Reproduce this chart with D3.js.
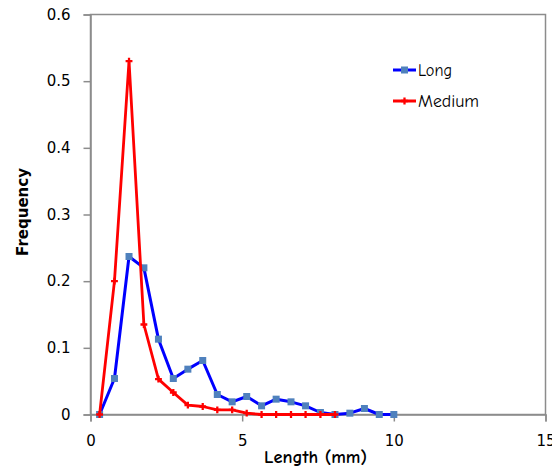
<!DOCTYPE html>
<html>
<head>
<meta charset="utf-8">
<script src="https://cdn.jsdelivr.net/npm/d3@7"></script>
<style>
  html, body { margin: 0; padding: 0; background: #fff; }
  svg { display: block; }
</style>
</head>
<body>
<svg id="chart" width="552" height="474"></svg>
<script>
// Fibre length classes (mm)
const lengths = [0.3, 0.79, 1.27, 1.76, 2.24, 2.73, 3.21, 3.70, 4.18, 4.67, 5.15,
                 5.64, 6.12, 6.61, 7.09, 7.58, 8.06, 8.55, 9.03, 9.52, 10.0];
// Frequency per class
const longFreq = [0, 0.054, 0.237, 0.220, 0.113, 0.054, 0.068, 0.081, 0.030, 0.019, 0.027,
                  0.013, 0.023, 0.019, 0.013, 0.003, 0, 0.002, 0.009, 0, 0];
const mediumFreq = [0, 0.200, 0.530, 0.135, 0.053, 0.033, 0.014, 0.012, 0.007, 0.007, 0.002,
                    0, 0, 0, 0, 0, 0];
const seriesNames = ["Long", "Medium"];
const xTicks = [0, 5, 10, 15];
const yTicks = [0, 0.1, 0.2, 0.3, 0.4, 0.5, 0.6];

const svg = d3.select("#chart");
const m = { left: 90.5, top: 14.5, right: 545.5, bottom: 414.5 };

const x = d3.scaleLinear().domain([0, 15]).range([m.left, m.right]);
const y = d3.scaleLinear().domain([0, 0.6]).range([m.bottom, m.top]);

const tickFont = "'DejaVu Sans', Verdana, sans-serif";
const comicFont = "'Comic Sans MS', 'Comic Neue', 'Open Sans', sans-serif";
const axisColor = "#8c8c8c";

// plot frame
svg.append("rect")
  .attr("x", m.left).attr("y", m.top)
  .attr("width", m.right - m.left).attr("height", m.bottom - m.top)
  .attr("fill", "none").attr("stroke", axisColor).attr("stroke-width", 1.5);

// axes
const xAxis = svg.append("g")
  .attr("transform", `translate(0,${m.bottom})`)
  .call(d3.axisBottom(x).tickValues(xTicks).tickSize(7).tickPadding(14).tickFormat(d3.format("d")));
const yAxis = svg.append("g")
  .attr("transform", `translate(${m.left},0)`)
  .call(d3.axisLeft(y).tickValues(yTicks).tickSize(7).tickPadding(13)
    .tickFormat(d => d === 0 ? "0" : d3.format(".1f")(d)));

[xAxis, yAxis].forEach(g => {
  g.select(".domain").attr("stroke", axisColor).attr("stroke-width", 1.5);
  g.selectAll(".tick line").attr("stroke", axisColor).attr("stroke-width", 1.5);
  g.selectAll(".tick text").attr("fill", "#000")
    .style("font-family", tickFont).style("font-size", "15px");
});

// axis titles
svg.append("text")
  .attr("x", 315.5).attr("y", 463)
  .attr("text-anchor", "middle")
  .attr("textLength", 103).attr("lengthAdjust", "spacingAndGlyphs")
  .style("font-family", comicFont).style("font-size", "17px").style("font-weight", "bold")
  .text("Length (mm)");
svg.append("text")
  .attr("transform", "translate(28,212) rotate(-90)")
  .attr("text-anchor", "middle")
  .style("font-family", "'DejaVu Sans', Verdana, sans-serif").style("font-size", "15px").style("font-weight", "bold")
  .text("Frequency");

const line = d3.line().x(d => x(d[0])).y(d => y(d[1]));
const longPts = lengths.map((l, i) => [l, longFreq[i]]);
const medPts = mediumFreq.map((v, i) => [lengths[i], v]);

// Long series
svg.append("path").datum(longPts)
  .attr("d", line).attr("fill", "none")
  .attr("stroke", "#0000ff").attr("stroke-width", 3).attr("stroke-linejoin", "round");
svg.selectAll(".sq").data(longPts).join("rect")
  .attr("x", d => x(d[0]) - 3.5).attr("y", d => y(d[1]) - 3.5)
  .attr("width", 7).attr("height", 7).attr("fill", "#4f81bd");

// Medium series
svg.append("path").datum(medPts)
  .attr("d", line).attr("fill", "none")
  .attr("stroke", "#ff0000").attr("stroke-width", 2.8).attr("stroke-linejoin", "round");
const cross = d3.symbol().type(d3.symbolCross).size(26);
svg.selectAll(".cr").data(medPts).join("path")
  .attr("transform", d => `translate(${x(d[0])},${y(d[1])})`)
  .attr("d", cross).attr("fill", "#ff0000");

// legend
const legend = [
  { name: seriesNames[0], color: "#0000ff", marker: "sq", y: 70, w: 34 },
  { name: seriesNames[1], color: "#ff0000", marker: "cr", y: 101, w: 61 }
];
legend.forEach(it => {
  svg.append("line").attr("x1", 393).attr("x2", 416).attr("y1", it.y).attr("y2", it.y)
    .attr("stroke", it.color).attr("stroke-width", 3);
  if (it.marker === "sq") {
    svg.append("rect").attr("x", 401).attr("y", it.y - 3.5).attr("width", 7).attr("height", 7)
      .attr("fill", "#4f81bd");
  } else {
    svg.append("path").attr("transform", `translate(404.5,${it.y})`).attr("d", cross).attr("fill", "#ff0000");
  }
  svg.append("text").attr("x", 418).attr("y", it.y + 5.5)
    .attr("textLength", it.w).attr("lengthAdjust", "spacingAndGlyphs")
    .style("font-family", comicFont).style("font-size", "17px")
    .text(it.name);
});
</script>
</body>
</html>
